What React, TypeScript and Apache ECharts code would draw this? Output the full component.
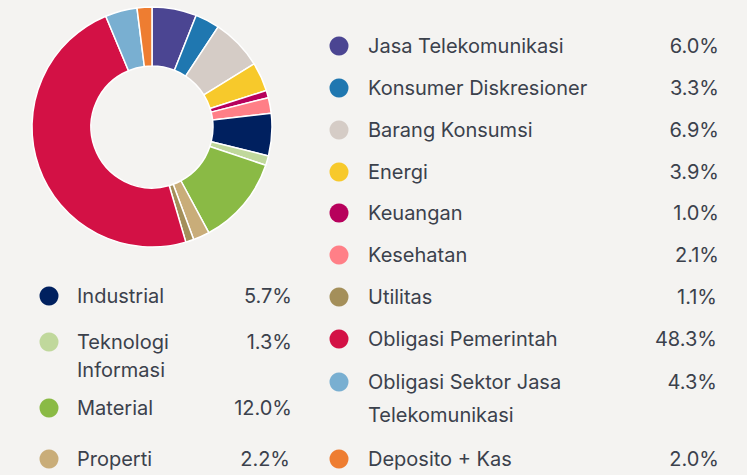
import React, { useEffect, useRef } from "react";
import * as echarts from "echarts";

const categories = [
  "Jasa Telekomunikasi",
  "Konsumer Diskresioner",
  "Barang Konsumsi",
  "Energi",
  "Keuangan",
  "Kesehatan",
  "Industrial",
  "Teknologi Informasi",
  "Material",
  "Properti",
  "Utilitas",
  "Obligasi Pemerintah",
  "Obligasi Sektor Jasa Telekomunikasi",
  "Deposito + Kas",
];
const values = [6.0, 3.3, 6.9, 3.9, 1.0, 2.1, 5.7, 1.3, 12.0, 2.2, 1.1, 48.3, 4.3, 2.0];
const colors = [
  "#4b4592", "#1f77b0", "#d5ccc6", "#f7c92b", "#b7005c", "#ff7f87", "#00205f",
  "#c0d89c", "#8aba45", "#c9ad79", "#a48f5a", "#d31145", "#79afd1", "#ee7d31",
];
// legend label lines (wrapped as in the reference)
const legendLines: string[][] = [
  ["Jasa Telekomunikasi"],
  ["Konsumer Diskresioner"],
  ["Barang Konsumsi"],
  ["Energi"],
  ["Keuangan"],
  ["Kesehatan"],
  ["Industrial"],
  ["Teknologi", "Informasi"],
  ["Material"],
  ["Properti"],
  ["Utilitas"],
  ["Obligasi Pemerintah"],
  ["Obligasi Sektor Jasa", "Telekomunikasi"],
  ["Deposito + Kas"],
];

// layout: [dotX, textX, valueRightX, rowY, secondLineY]
const layout: number[][] = [
  [339, 368, 719, 46, 0],
  [339, 368, 719, 88, 0],
  [339, 368, 719, 130, 0],
  [339, 368, 719, 172, 0],
  [339, 368, 719, 213, 0],
  [339, 368, 719, 255, 0],
  [49, 77, 292, 296, 0],
  [49, 77, 292, 342, 370],
  [49, 77, 292, 408, 0],
  [49, 77, 290, 459, 0],
  [339, 368, 717, 297, 0],
  [339, 368, 717, 339, 0],
  [339, 368, 717, 382, 415],
  [339, 368, 719, 459, 0],
];

const FONT = "Inter";
const TEXT = "#3b414c";

export default function App() {
  const ref = useRef<HTMLDivElement>(null);
  useEffect(() => {
    const chart = echarts.init(ref.current!, undefined, { renderer: "svg" });
    const graphics: any[] = [];
    categories.forEach((c, i) => {
      const [dx, tx, vx, y, y2] = layout[i];
      graphics.push({
        type: "circle",
        shape: { cx: dx, cy: y, r: 9.5 },
        style: { fill: colors[i] },
      });
      legendLines[i].forEach((line, k) => {
        graphics.push({
          type: "text",
          x: tx,
          y: k === 0 ? y : y2,
          style: {
            text: line,
            font: `20px ${FONT}`,
            fill: TEXT,
            textAlign: "left",
            textVerticalAlign: "middle",
          },
        });
      });
      graphics.push({
        type: "text",
        x: vx,
        y: y,
        style: {
          text: values[i].toFixed(1) + "%",
          font: `20px ${FONT}`,
          fill: TEXT,
          textAlign: "right",
          textVerticalAlign: "middle",
        },
      });
    });
    chart.setOption({
      animation: false,
      backgroundColor: "#f4f3f1",
      graphic: graphics,
      series: [
        {
          type: "pie",
          center: [152, 127],
          radius: [61, 120],
          startAngle: 90,
          clockwise: true,
          label: { show: false },
          labelLine: { show: false },
          itemStyle: { borderColor: "#ffffff", borderWidth: 1.5 },
          emphasis: { disabled: true },
          data: categories.map((c, i) => ({
            name: c,
            value: values[i],
            itemStyle: { color: colors[i] },
          })),
        },
      ],
    });
    return () => chart.dispose();
  }, []);
  return (
    <div
      ref={ref}
      style={{ position: "fixed", left: 0, top: 0, width: 747, height: 475 }}
    />
  );
}
